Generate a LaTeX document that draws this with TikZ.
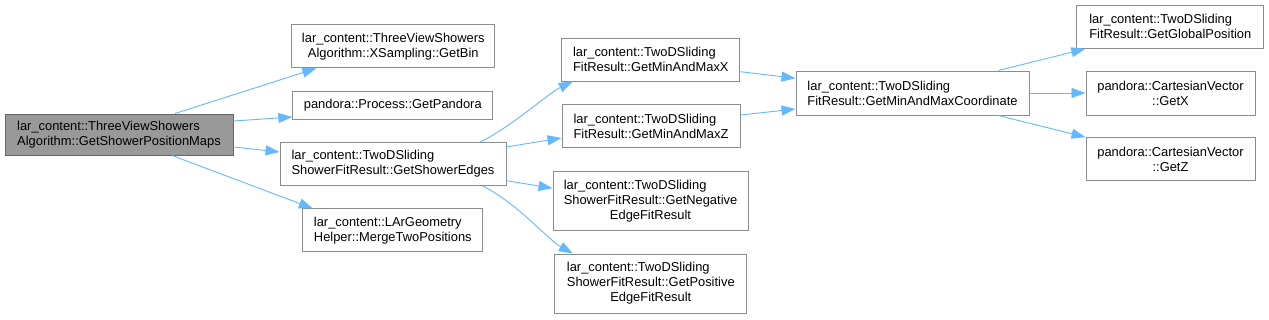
\documentclass[tikz,border=0pt]{standalone}
\usepackage{fontspec}
\setmainfont{Liberation Sans}
\usetikzlibrary{arrows.meta}
\definecolor{edgeblue}{HTML}{63B8FF}
\definecolor{boxgray}{HTML}{8C8C8C}
\definecolor{maingray}{HTML}{999999}
\definecolor{mainborder}{HTML}{666666}
\begin{document}
\begin{tikzpicture}[x=1pt,y=-1pt,
 box/.style={draw=boxgray, line width=1pt, fill=white, inner sep=0pt, font=\fontsize{12.9}{15}\selectfont, rectangle},
 lbox/.style={box, align=left},
 cbox/.style={box, align=center},
 edge/.style={draw=edgeblue, line width=0.9pt, -{Triangle[length=14pt,width=10pt]}}
]
\useasboundingbox (0,0) rectangle (1269,319);

\node[lbox, fill=maingray, draw=mainborder, minimum width=228pt, minimum height=41pt] (main) at (119,134.5)
  {lar\_content::ThreeViewShowers\\Algorithm::GetShowerPositionMaps};
\node[cbox, minimum width=203pt, minimum height=43pt] (getbin) at (393.3,46.3)
  {lar\_content::ThreeViewShowers\\Algorithm::XSampling::GetBin};
\node[cbox, minimum width=200pt, minimum height=28pt] (pandora) at (392.8,105)
  {pandora::Process::GetPandora};
\node[lbox, minimum width=226pt, minimum height=42.3pt] (edges) at (393,163.9)
  {lar\_content::TwoDSliding\\ShowerFitResult::GetShowerEdges};
\node[lbox, minimum width=180pt, minimum height=42.7pt] (merge) at (392.8,230.3)
  {lar\_content::LArGeometry\\Helper::MergeTwoPositions};
\node[lbox, minimum width=178.3pt, minimum height=43pt] (maxx) at (650.8,59.5)
  {lar\_content::TwoDSliding\\FitResult::GetMinAndMaxX};
\node[lbox, minimum width=178pt, minimum height=42.7pt] (maxz) at (651,126.3)
  {lar\_content::TwoDSliding\\FitResult::GetMinAndMaxZ};
\node[box, minimum width=195pt, minimum height=59pt] (neg) at (650.5,201.2)
  {\begin{tabular}{@{}l@{}}lar\_content::TwoDSliding\\ShowerFitResult::GetNegative\\\multicolumn{1}{@{}c@{}}{EdgeFitResult}\end{tabular}};
\node[box, minimum width=191.7pt, minimum height=59pt] (pos) at (650.8,283.5)
  {\begin{tabular}{@{}l@{}}lar\_content::TwoDSliding\\ShowerFitResult::GetPositive\\\multicolumn{1}{@{}c@{}}{EdgeFitResult}\end{tabular}};
\node[lbox, minimum width=233pt, minimum height=44pt] (coord) at (912.5,93)
  {lar\_content::TwoDSliding\\FitResult::GetMinAndMaxCoordinate};
\node[lbox, minimum width=187.3pt, minimum height=43.3pt] (global) at (1170.3,26.7)
  {lar\_content::TwoDSliding\\FitResult::GetGlobalPosition};
\node[cbox, minimum width=169pt, minimum height=44pt] (getx) at (1170.5,93)
  {pandora::CartesianVector\\::GetX};
\node[cbox, minimum width=169pt, minimum height=43.3pt] (getz) at (1170.5,159.3)
  {pandora::CartesianVector\\::GetZ};

\draw[edge] ([xshift=56pt]main.north) -- ([xshift=-77pt]getbin.south);
\draw[edge] ([yshift=13.5pt]main.east) -- ([yshift=-12pt]pandora.west);
\draw[edge] ([yshift=-12.5pt]main.east) -- ([yshift=12pt]edges.west);
\draw[edge] ([xshift=53pt]main.south) -- ([xshift=-80pt]merge.north);
\draw[edge] ([xshift=87pt]edges.north) .. controls +(35,-18) and +(-25,12) .. ([xshift=-78pt]maxx.south);
\draw[edge] ([yshift=17pt]edges.east) -- ([yshift=-11.7pt]maxz.west);
\draw[edge] ([yshift=-16.8pt]edges.east) -- ([yshift=13pt]neg.west);
\draw[edge] ([xshift=88.7pt]edges.south) .. controls +(35,17) and +(-25,-14) .. ([xshift=-78pt]pos.north);
\draw[edge] ([yshift=-12.2pt]maxx.east) -- ([yshift=14.7pt]coord.west);
\draw[edge] ([yshift=11.3pt]maxz.east) -- ([yshift=-16pt]coord.west);
\draw[edge] ([xshift=86pt]coord.north) -- ([xshift=-85pt]global.south);
\draw[edge] (coord.east) -- (getx.west);
\draw[edge] ([xshift=86pt]coord.south) -- ([xshift=-85pt]getz.north);
\end{tikzpicture}
\end{document}
